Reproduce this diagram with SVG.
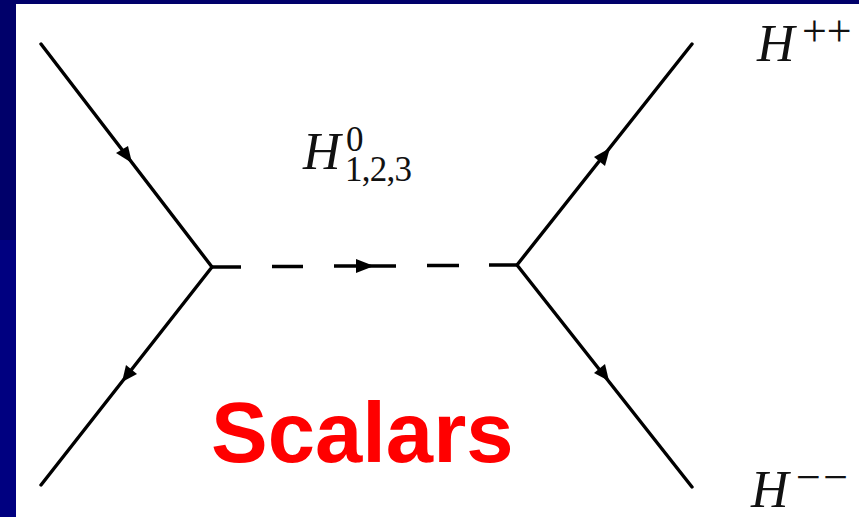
<svg xmlns="http://www.w3.org/2000/svg" width="859" height="517" viewBox="0 0 859 517">
<defs>
<style>
.l{stroke:#000;stroke-width:3.400;fill:none}
.a{fill:#000}
.m{font-family:"Liberation Serif","Times New Roman",serif;fill:#111}
.i{font-style:italic;font-size:52px}
.s{font-size:35px}
.o{font-size:44px}
.t{font-family:"Liberation Sans",Arial,sans-serif;font-weight:bold;font-size:85px;fill:#f00}
</style>
</defs>
<rect id="bg-lower" width="859" height="517" fill="#000080"/>
<rect id="bg-upper" width="16" height="240" fill="#00006a"/>
<rect id="bg-top" width="859" height="4" fill="#00006a"/>
<rect id="page" x="16" y="4" width="843" height="513" fill="#fff"/>
<g id="connectors">
<path class="l" stroke-linecap="round" d="M41 44L212 267M41 485L212 267M692 44L517 265M692 487L517 265"/>
<path class="l" d="M212 267H241M272 266.500H303M334 266H396M427 265.500H459M489 265H517"/>
<path class="a" d="M132 163L116 153L128 146Z"/>
<path class="a" d="M122 382L126 365L137 374Z"/>
<path class="a" d="M610 148L594 157L605 166Z"/>
<path class="a" d="M609 381L594 373L605 364Z"/>
<path class="a" d="M374 266L356 259V273Z"/>
</g>
<g id="label-h0"><text class="m i" x="303" y="169">H</text><text class="m s" x="346" y="151">0</text><text class="m s" x="345" y="181" textLength="67">1,2,3</text></g>
<g id="label-hpp"><text class="m i" x="757" y="61">H</text><text class="m o" x="802" y="46">++</text></g>
<g id="label-hmm"><text class="m i" x="751" y="507">H</text><text class="m o" x="796" y="492" textLength="52">−−</text></g>
<g id="label-scalars"><text class="t" x="211" y="462">Scalars</text></g>
</svg>
